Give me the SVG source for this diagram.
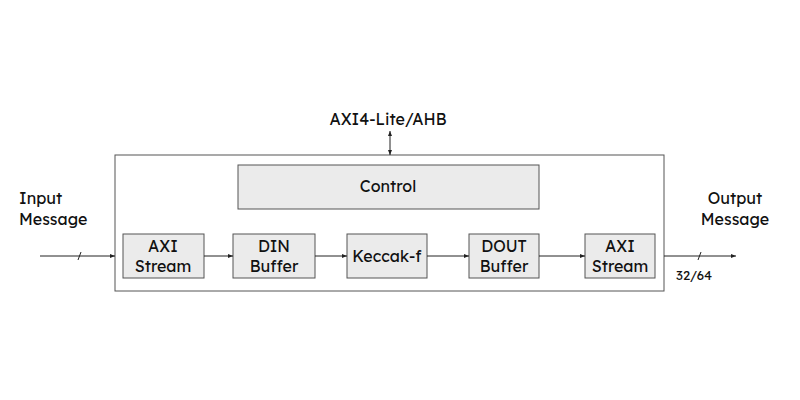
<svg xmlns="http://www.w3.org/2000/svg" width="800" height="400" viewBox="0 0 800 400">
<style>
text{font-family:"Lexend","Noto Sans","DejaVu Sans",sans-serif;fill:#111;text-anchor:middle}
.b{fill:#ebebeb;stroke:#555;stroke-width:1}
.l{stroke:#222;stroke-width:1;fill:none}
.t{font-size:16px}
</style>
<defs><marker id="a" markerWidth="6" markerHeight="6" refX="5" refY="3" orient="auto-start-reverse" markerUnits="userSpaceOnUse"><path d="M0,1 L5,3 L0,5z" fill="#222"/></marker></defs>
<rect width="800" height="400" fill="#fff"/>
<g id="outer"><rect x="115" y="155" width="549" height="136" fill="#fff" stroke="#555"/></g>
<g id="control"><rect class="b" x="238" y="165" width="301" height="44"/><text class="t" x="388" y="192">Control</text></g>
<g id="axi-in"><rect class="b" x="123" y="234" width="81" height="44"/><text class="t" x="163" y="252">AXI</text><text class="t" x="163" y="272">Stream</text></g>
<g id="din"><rect class="b" x="233" y="234" width="82" height="44"/><text class="t" x="274" y="252">DIN</text><text class="t" x="274" y="272">Buffer</text></g>
<g id="keccak"><rect class="b" x="347" y="234" width="80" height="44"/><text class="t" x="387" y="262">Keccak-f</text></g>
<g id="dout"><rect class="b" x="469" y="234" width="70" height="44"/><text class="t" x="504" y="252">DOUT</text><text class="t" x="504" y="272">Buffer</text></g>
<g id="axi-out"><rect class="b" x="585" y="234" width="70" height="44"/><text class="t" x="620" y="252">AXI</text><text class="t" x="620" y="272">Stream</text></g>
<g id="labels">
<text class="t" x="388" y="125">AXI4-Lite/AHB</text>
<text class="t" x="19" y="204" style="text-anchor:start">Input</text>
<text class="t" x="19" y="225" style="text-anchor:start">Message</text>
<text class="t" x="735" y="204">Output</text>
<text class="t" x="735" y="225">Message</text>
<text x="694" y="280" font-size="13">32/64</text>
</g>
<g id="connectors">
<line class="l" x1="390" y1="131" x2="390" y2="155" marker-start="url(#a)" marker-end="url(#a)"/>
<line class="l" x1="40" y1="256" x2="115" y2="256" stroke-width="1.5" marker-end="url(#a)"/>
<line class="l" x1="78" y1="260" x2="81" y2="252"/>
<line class="l" x1="204" y1="256" x2="233" y2="256" marker-end="url(#a)"/>
<line class="l" x1="315" y1="256" x2="347" y2="256" marker-end="url(#a)"/>
<line class="l" x1="427" y1="256" x2="469" y2="256" marker-end="url(#a)"/>
<line class="l" x1="539" y1="256" x2="585" y2="256" marker-end="url(#a)"/>
<line class="l" x1="664" y1="256" x2="736" y2="256" stroke-width="1.5" marker-end="url(#a)"/>
<line class="l" x1="698" y1="260" x2="701" y2="252"/>
</g>
</svg>
